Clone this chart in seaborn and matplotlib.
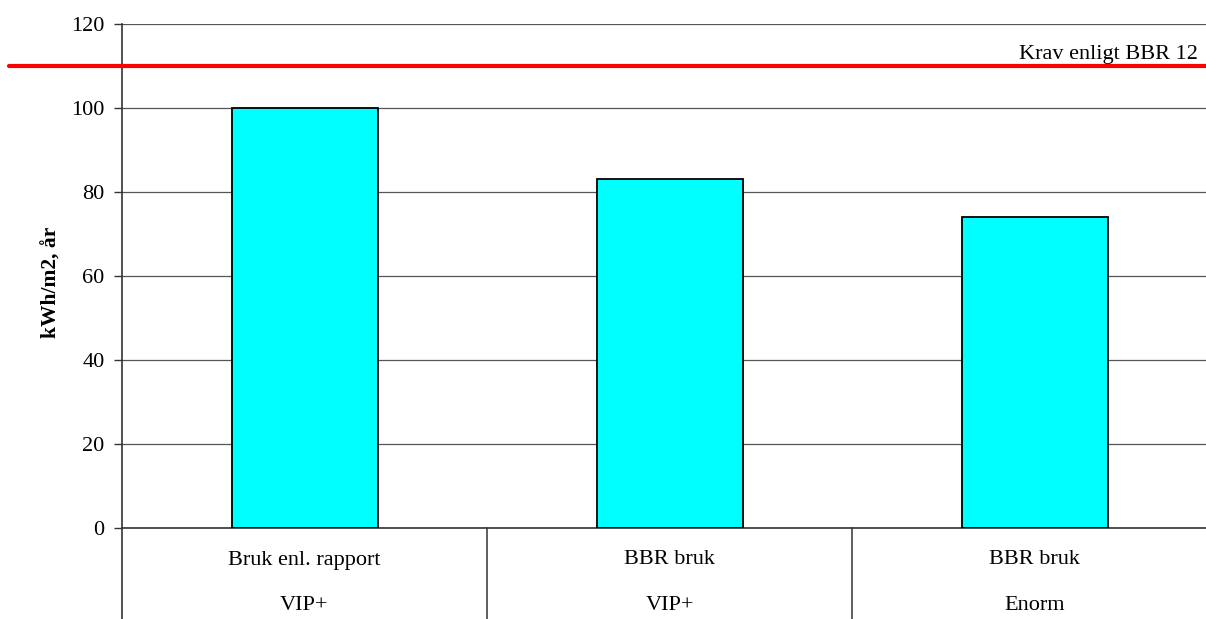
import matplotlib
matplotlib.use("Agg")
import matplotlib.pyplot as plt
import matplotlib.transforms as mtransforms
import seaborn as sns
import pandas as pd

# Energy use per scenario
usage_labels = ["Bruk enl. rapport", "BBR bruk", "BBR bruk"]
building_labels = ["VIP+", "VIP+", "Enorm"]
energy = [100, 83, 74]
requirement = 110
requirement_label = "Krav enligt BBR 12"
y_ticks = [0, 20, 40, 60, 80, 100, 120]

sns.set_theme(style="white")
plt.rcParams["font.family"] = ["Liberation Serif", "DejaVu Serif"]
plt.rcParams["text.color"] = "black"

FS = 16

df = pd.DataFrame({
    "scenario": [f"{u}\n{b}{i}" for i, (u, b) in enumerate(zip(usage_labels, building_labels))],
    "energy": energy,
})

W, H = 1206, 619
x0, x1, y_top, y_bot = 122, 1217, 24, 528
fig = plt.figure(figsize=(W / 100, H / 100), dpi=100)
ax = fig.add_axes([x0 / W, 1 - y_bot / H, (x1 - x0) / W, (y_bot - y_top) / H])

sns.barplot(data=df, x="scenario", y="energy", color="#00FFFF", saturation=1,
            width=0.4, edgecolor="black", linewidth=1.3, ax=ax, zorder=3)

ax.set_ylim(0, 120)
ax.set_xlim(-0.5, len(energy) - 0.5)
ax.set_yticks(y_ticks)
ax.tick_params(axis="y", labelsize=FS, length=6, width=1, color="#333333",
               direction="out", left=True, pad=6.5, labelcolor="black")
ax.set_xticks([])
ax.set_xlabel("")
ax.set_ylabel("kWh/m2, år", fontsize=15.5, fontweight="bold", color="black",
              va="center")
axis_px = y_bot - y_top
ax.yaxis.set_label_coords((52 - x0) / (x1 - x0), (y_bot - 282) / axis_px)
ax.yaxis.grid(True, color="#555555", linewidth=0.9)
ax.set_axisbelow(True)

for side in ["top", "right"]:
    ax.spines[side].set_visible(False)
ax.spines["left"].set_color("#333333")
ax.spines["left"].set_linewidth(1.2)
ax.spines["bottom"].set_color("#333333")
ax.spines["bottom"].set_linewidth(1.2)

# Two-row category labels below the axis with separators
trans = mtransforms.blended_transform_factory(ax.transData, ax.transAxes)
for i, (u, b) in enumerate(zip(usage_labels, building_labels)):
    ax.text(i, -32 / axis_px, u, transform=trans, ha="center", va="center", fontsize=FS)
    ax.text(i, -77 / axis_px, b, transform=trans, ha="center", va="center", fontsize=FS)
for i in range(len(energy)):
    ax.plot([i - 0.5, i - 0.5], [0, -95 / axis_px], transform=trans, color="#333333",
            linewidth=1.1 if i else 1.2, clip_on=False)

# Requirement line extending across the figure width
ax.plot([-0.81, len(energy) - 0.5], [requirement, requirement], color="#FF0000",
        linewidth=3, clip_on=False, zorder=4)
ax.text(len(energy) - 0.5 - 19 / 365, requirement + 0.4, requirement_label,
        ha="right", va="bottom", fontsize=FS, zorder=5)

fig.savefig("out.png", dpi=100)
